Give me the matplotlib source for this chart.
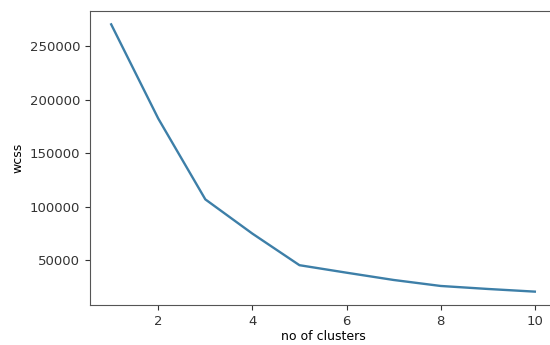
import matplotlib
matplotlib.use("Agg")
import matplotlib.pyplot as plt

# elbow method values
n_clusters = [1, 2, 3, 4, 5, 6, 7, 8, 9, 10]
wcss = [270500, 182500, 107000, 75000, 45500, 38500, 31700, 26100, 23300, 20800]

fig = plt.figure(figsize=(5.5, 3.45), dpi=100)
# right edge of the axes runs past the picture, as in the cropped original
ax = fig.add_axes([90 / 550, 1 - 305 / 345, 466 / 550, 294 / 345])
ax.plot(n_clusters, wcss, color="#3d7fa8", linewidth=1.7)
ax.set_xticks([2, 4, 6, 8, 10])
ax.set_yticks([50000, 100000, 150000, 200000, 250000])
ax.set_xlabel("no of clusters", fontsize=9, labelpad=2)
ax.set_ylabel("wcss", fontsize=9, labelpad=4)
ax.tick_params(labelsize=9.5, colors="#333333")
for s in ax.spines.values():
    s.set_color("#555555")
ax.spines["right"].set_visible(False)

fig.savefig("out.png", dpi=100)
